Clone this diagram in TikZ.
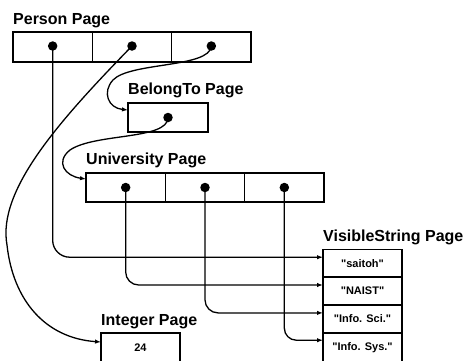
\documentclass[tikz,border=0pt]{standalone}
\usepackage{fontspec}
\setmainfont{Liberation Sans}
\usetikzlibrary{arrows.meta}
\begin{document}
\begin{tikzpicture}[x=1pt,y=-1pt,
  cellbox/.style={draw, line width=1.6pt, minimum width=79.33pt, inner sep=0pt, outer sep=0pt},
  dotnode/.style={circle, fill=black, inner sep=0pt, minimum size=9.5pt},
  pagelabel/.style={anchor=base west, inner sep=0pt, font=\fontsize{16}{19}\selectfont\bfseries},
  celltext/.style={font=\fontsize{11}{13}\selectfont\bfseries},
  conn/.style={line width=1.3pt, -{Latex[length=6pt,width=4.5pt]}}]
\useasboundingbox (0,0) rectangle (466,360);
% Person page
\node[pagelabel] (lp) at (13,24) {Person Page};
\node[cellbox, minimum height=30pt] (p1) at (52.67,47) {};
\node[cellbox, minimum height=30pt] (p2) at (132,47) {};
\node[cellbox, minimum height=30pt] (p3) at (211.33,47) {};
\node[dotnode] (pd1) at ([yshift=1pt]p1.center) {};
\node[dotnode] (pd2) at ([yshift=1pt]p2.center) {};
\node[dotnode] (pd3) at ([yshift=1pt]p3.center) {};
% BelongTo page
\node[pagelabel] (lb) at (128,94.5) {BelongTo Page};
\node[cellbox, minimum width=80pt, minimum height=29pt] (b1) at (168,117.5) {};
\node[dotnode] (bd1) at (b1.center) {};
% University page
\node[pagelabel] (lu) at (86,164.5) {University Page};
\node[cellbox, minimum height=29pt] (u1) at (125.67,187.5) {};
\node[cellbox, minimum height=29pt] (u2) at (205,187.5) {};
\node[cellbox, minimum height=29pt] (u3) at (284.33,187.5) {};
\node[dotnode] (ud1) at (u1.center) {};
\node[dotnode] (ud2) at (u2.center) {};
\node[dotnode] (ud3) at (u3.center) {};
% VisibleString page
\node[pagelabel] (lv) at (323,241.5) {VisibleString Page};
\node[cellbox, minimum width=79pt, minimum height=27.7pt, celltext] (v1) at (362.5,263.2) {\textquotedbl saitoh\textquotedbl};
\node[cellbox, minimum width=79pt, minimum height=28pt, celltext] (v2) at (362.5,291) {\textquotedbl NAIST\textquotedbl};
\node[cellbox, minimum width=79pt, minimum height=27.7pt, celltext] (v3) at (362.5,318.9) {\textquotedbl Info. Sci.\textquotedbl};
\node[cellbox, minimum width=79pt, minimum height=30pt, celltext] (v4) at (362.5,347.7) {\textquotedbl Info. Sys.\textquotedbl};
% Integer page
\node[pagelabel] (li) at (101,325) {Integer Page};
\node[cellbox, minimum width=79pt, minimum height=30pt, celltext] (i1) at (140.5,348) {24};
% connectors
\draw[conn, rounded corners=17pt] (pd1.center) |- ([yshift=6pt]v1.west);
\draw[conn, rounded corners=13pt] (ud1.center) |- ([yshift=6pt]v2.west);
\draw[conn, rounded corners=13pt] (ud2.center) |- ([yshift=6pt]v3.west);
\draw[conn, rounded corners=12pt] (ud3.center) |- ([yshift=7.5pt]v4.west);
\draw[conn] (pd2.center) .. controls (60,120) and (-3,190) .. (7,245)
  .. controls (13,300) and (45,338) .. ([yshift=6pt]i1.west);
\draw[conn] (pd3.center) .. controls (210,68) and (130,62) .. (113,80)
  .. controls (102,92) and (108,108) .. ([yshift=7.5pt]b1.west);
\draw[conn] (bd1.center) .. controls (168,140) and (95,133) .. (70,150)
  .. controls (55,162) and (65,176) .. ([yshift=8.5pt]u1.west);
\end{tikzpicture}
\end{document}
